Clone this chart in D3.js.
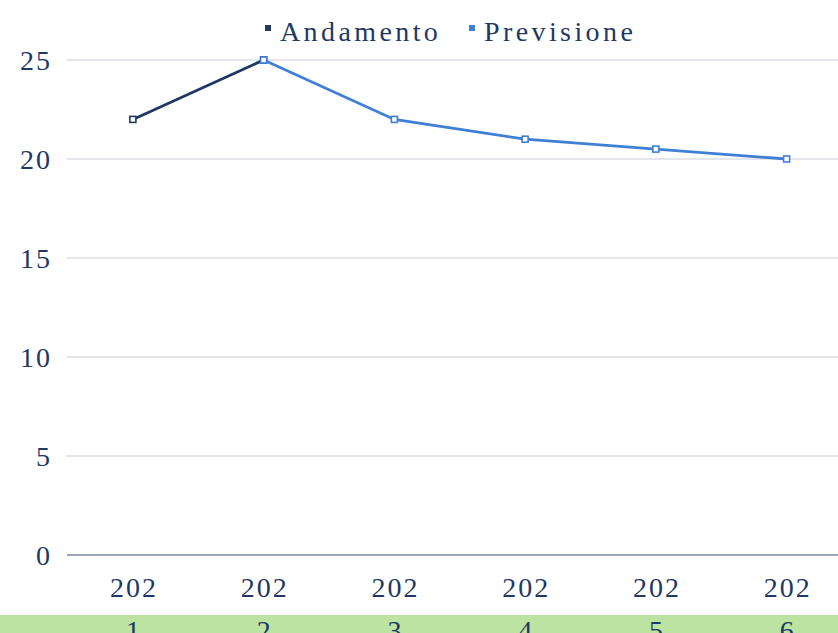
<!DOCTYPE html>
<html lang="it">
<head>
<meta charset="utf-8">
<title>Andamento e previsione</title>
<script src="https://d3js.org/d3.v7.min.js"></script>
<style>
  body { margin: 0; background: #fff; }
  text { font-family: "Liberation Serif", "DejaVu Serif", serif; fill: #1f3864; }
</style>
</head>
<body>
<svg id="chart" width="838" height="633"></svg>
<script>
// data
var years = ["2021", "2022", "2023", "2024", "2025", "2026"];
var andamento = [22, 25, null, null, null, null];
var previsione = [null, 25, 22, 21, 20.5, 20];
var yTicks = [0, 5, 10, 15, 20, 25];

var svg = d3.select("#chart");
var W = 838, H = 633;

// green strip at the bottom
svg.append("rect")
  .attr("x", 0).attr("y", 615)
  .attr("width", W).attr("height", H - 615)
  .style("fill", "#bde3a3");

var x = d3.scaleBand().domain(years).range([67.5, 852]);
var y = d3.scaleLinear().domain([0, 25]).range([555, 60]);

// gridlines
svg.append("g").selectAll("line")
  .data(yTicks.filter(function(d) { return d > 0; }))
  .enter().append("line")
  .attr("x1", 67).attr("x2", W)
  .attr("y1", function(d) { return y(d); })
  .attr("y2", function(d) { return y(d); })
  .style("stroke", "#c9cdd9").style("stroke-width", 1);

// baseline
svg.append("line")
  .attr("x1", 67).attr("x2", W)
  .attr("y1", y(0)).attr("y2", y(0))
  .style("stroke", "#7c87a3").style("stroke-width", 1.3);

// y labels
svg.append("g").selectAll("text")
  .data(yTicks)
  .enter().append("text")
  .attr("x", 52)
  .attr("y", function(d) { return y(d) + 10; })
  .attr("text-anchor", "end")
  .style("font-size", "28px")
  .style("letter-spacing", "2px")
  .text(function(d) { return d; });

// x labels, wrapped as "202" / last digit
var xl = svg.append("g").selectAll("text")
  .data(years)
  .enter().append("text")
  .attr("text-anchor", "middle")
  .style("font-size", "28px")
  .style("letter-spacing", "2px");
xl.append("tspan")
  .attr("x", function(d) { return x(d) + x.bandwidth() / 2 + 1; })
  .attr("y", 597)
  .text(function(d) { return d.slice(0, 3); });
xl.append("tspan")
  .attr("x", function(d) { return x(d) + x.bandwidth() / 2 + 1; })
  .attr("y", 640)
  .text(function(d) { return d.slice(3); });

function cx(i) { return x(years[i]) + x.bandwidth() / 2; }

function drawSeries(vals, color) {
  var pts = vals.map(function(v, i) { return { i: i, v: v }; })
    .filter(function(d) { return d.v !== null; });
  svg.append("path")
    .datum(pts)
    .attr("d", d3.line().x(function(d) { return cx(d.i); }).y(function(d) { return y(d.v); }))
    .style("fill", "none")
    .style("stroke", color)
    .style("stroke-width", 2.8);
  svg.append("g").selectAll("rect")
    .data(pts)
    .enter().append("rect")
    .attr("x", function(d) { return cx(d.i) - 3; })
    .attr("y", function(d) { return y(d.v) - 3; })
    .attr("width", 6).attr("height", 6)
    .style("fill", "#fff")
    .style("stroke", color)
    .style("stroke-width", 1.6);
}

drawSeries(andamento, "#1f3864");
drawSeries(previsione, "#3f7fd6");

// legend
var legend = [
  { name: "Andamento", color: "#1f3864", x: 265 },
  { name: "Previsione", color: "#3f7fd6", x: 469 }
];
var lg = svg.append("g").selectAll("g").data(legend).enter().append("g");
lg.append("rect")
  .attr("x", function(d) { return d.x; })
  .attr("y", 25)
  .attr("width", 6).attr("height", 6)
  .style("fill", function(d) { return d.color; });
lg.append("text")
  .attr("x", function(d) { return d.x + 15; })
  .attr("y", 41)
  .style("font-size", "28px")
  .style("letter-spacing", "3.4px")
  .text(function(d) { return d.name; });
</script>
</body>
</html>
